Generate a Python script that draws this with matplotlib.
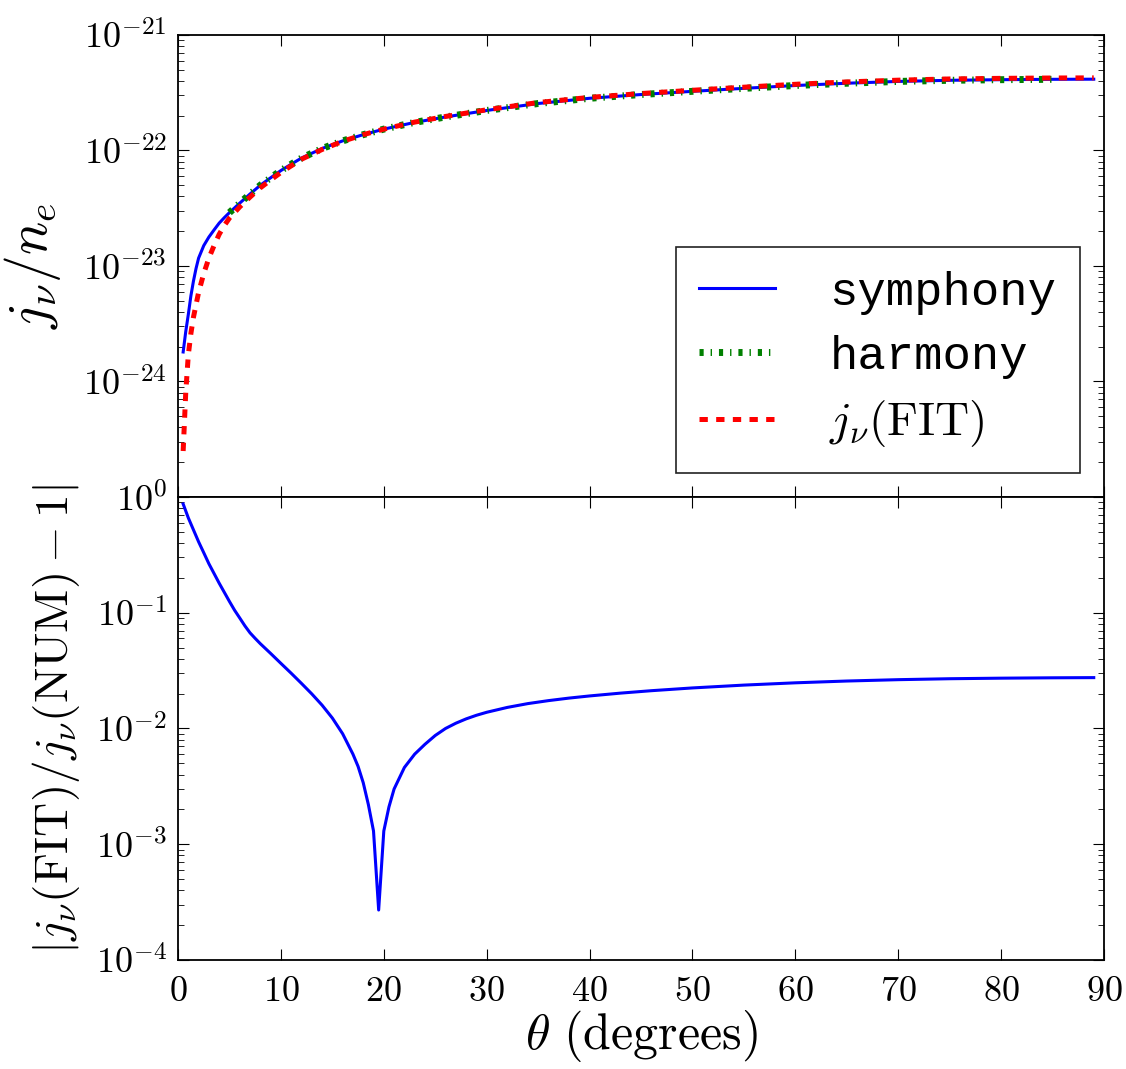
import numpy as np
import matplotlib
matplotlib.use('Agg')
import matplotlib.pyplot as plt
from matplotlib.ticker import FuncFormatter, LogLocator, MultipleLocator, NullFormatter

#Emissivity per electron vs observer angle (degrees)
theta_sym = [0.5, 0.75, 1.0, 1.25, 1.5, 1.75, 2.0, 2.5, 3.0, 3.5, 4.0, 4.5, 5.0, 6.0,
             7.0, 8.0, 9.0, 10.0, 11.0, 12.0, 14.0, 16.0, 18.0, 20.0, 23.0, 26.0,
             30.0, 35.0, 40.0, 45.0, 50.0, 55.0, 60.0, 65.0, 70.0, 75.0, 80.0, 85.0,
             89.0]
j_sym = [1.8e-24, 2.7e-24, 3.8e-24, 5.5e-24, 7.4e-24, 9.5e-24, 1.17e-23, 1.5e-23,
         1.78e-23, 2.05e-23, 2.35e-23, 2.62e-23, 2.9e-23, 3.5e-23, 4.2e-23, 5.0e-23,
         5.8e-23, 6.7e-23, 7.6e-23, 8.6e-23, 1.04e-22, 1.21e-22, 1.37e-22, 1.53e-22,
         1.75e-22, 1.95e-22, 2.22e-22, 2.55e-22, 2.83e-22, 3.05e-22, 3.25e-22,
         3.45e-22, 3.65e-22, 3.82e-22, 3.96e-22, 4.05e-22, 4.10e-22, 4.13e-22,
         4.14e-22]

theta_harm = [5.0, 6.0, 7.0, 8.0, 9.0, 10.0, 11.0, 12.0, 14.0, 16.0, 18.0, 20.0, 23.0,
              26.0, 30.0, 35.0, 40.0, 45.0, 50.0, 55.0, 60.0, 65.0, 70.0, 75.0, 80.0,
              85.0]
j_harm = [2.9e-23, 3.5e-23, 4.2e-23, 5.0e-23, 5.8e-23, 6.7e-23, 7.6e-23, 8.6e-23,
          1.04e-22, 1.21e-22, 1.37e-22, 1.53e-22, 1.75e-22, 1.95e-22, 2.22e-22,
          2.55e-22, 2.83e-22, 3.05e-22, 3.25e-22, 3.45e-22, 3.65e-22, 3.82e-22,
          3.96e-22, 4.05e-22, 4.10e-22, 4.13e-22]

theta_fit = [0.5, 0.75, 1.0, 1.25, 1.5, 2.0, 2.5, 3.0, 3.5, 4.0, 4.5, 5.0, 6.0, 7.0,
             8.0, 9.0, 10.0, 12.0, 14.0, 16.0, 18.0, 20.0, 23.0, 26.0, 30.0, 35.0,
             40.0, 45.0, 50.0, 55.0, 60.0, 65.0, 70.0, 75.0, 80.0, 85.0, 89.0]
j_fit = [2.5e-25, 8.0e-25, 1.7e-24, 2.6e-24, 3.6e-24, 5.9e-24, 8.6e-24, 1.17e-23,
         1.5e-23, 1.88e-23, 2.24e-23, 2.6e-23, 3.25e-23, 3.95e-23, 4.75e-23, 5.55e-23,
         6.45e-23, 8.4e-23, 1.02e-22, 1.2e-22, 1.37e-22, 1.53e-22, 1.76e-22,
         1.97e-22, 2.25e-22, 2.6e-22, 2.88e-22, 3.11e-22, 3.32e-22, 3.53e-22,
         3.74e-22, 3.92e-22, 4.06e-22, 4.16e-22, 4.21e-22, 4.24e-22, 4.25e-22]

#Fractional error of the fit
theta_err = [0.5, 1.0, 1.5, 2.0, 2.5, 3.0, 4.0, 5.0, 5.5, 6.0, 6.5, 7.0, 7.5, 8.0,
             9.0, 10.0, 11.0, 12.0, 13.0, 14.0, 15.0, 16.0, 17.0, 17.5, 18.0, 18.5,
             19.0, 19.5, 20.0, 20.5, 21.0, 22.0, 23.0, 24.0, 25.0, 26.0, 27.0, 28.0,
             29.0, 30.0, 32.0, 34.0, 36.0, 38.0, 40.0, 43.0, 46.0, 50.0, 55.0, 60.0,
             65.0, 70.0, 75.0, 80.0, 85.0, 89.0]
frac_err = [0.87, 0.66, 0.52, 0.41, 0.33, 0.265, 0.18, 0.125, 0.105, 0.090, 0.077,
            0.067, 0.060, 0.054, 0.0445, 0.0365, 0.0300, 0.0245, 0.0199, 0.0159,
            0.0123, 0.0090, 0.0060, 0.0047, 0.0034, 0.0022, 0.0013, 0.00027, 0.0013,
            0.0021, 0.0030, 0.0046, 0.0060, 0.0073, 0.0087, 0.0100, 0.0111, 0.0121,
            0.0130, 0.0138, 0.0152, 0.0164, 0.0174, 0.0183, 0.0191, 0.0202, 0.0212,
            0.0224, 0.0237, 0.0248, 0.0257, 0.0264, 0.0269, 0.0272, 0.0274, 0.0275]

plt.rcParams['mathtext.fontset'] = 'cm'
plt.rcParams['font.family'] = 'serif'
plt.rcParams['lines.scale_dashes'] = False
plt.rcParams['xtick.direction'] = 'in'
plt.rcParams['ytick.direction'] = 'in'
plt.rcParams['xtick.top'] = True
plt.rcParams['ytick.right'] = True
plt.rcParams['xtick.major.size'] = 8
plt.rcParams['ytick.major.size'] = 8
plt.rcParams['xtick.minor.size'] = 4.5
plt.rcParams['ytick.minor.size'] = 4.5
plt.rcParams['xtick.major.pad'] = 10
plt.rcParams['ytick.major.pad'] = 8
plt.rcParams['axes.linewidth'] = 1.3

fig = plt.figure(figsize=(11.26, 10.69), dpi=100)
ax1 = fig.add_axes([0.1581, 0.5351, 0.8224, 0.4322])
ax2 = fig.add_axes([0.1581, 0.1020, 0.8224, 0.4331])

def log_label(v, pos, skip=None):
    p = int(round(np.log10(v)))
    if skip is not None and p == skip:
        return ''
    return r'$10^{%d}$' % p

#Top panel: emissivities
ax1.plot(theta_sym, j_sym, color='#0000ff', lw=2.2, label=r'symphony')
ax1.plot(theta_harm, j_harm, color='#008000', lw=5, ls=(0, (3, 5, 1, 5)),
         label=r'harmony')
ax1.plot(theta_fit, j_fit, color='#ff0000', lw=3.6, ls=(0, (6, 6)),
         label=r'$j_\nu({\rm FIT})$')
ax1.set_yscale('log')
ax1.set_xlim(0, 90)
ax1.set_ylim(1e-25, 1e-21)
ax1.yaxis.set_major_locator(LogLocator(base=10, numticks=10))
ax1.yaxis.set_minor_locator(LogLocator(base=10, subs=np.arange(2, 10), numticks=20))
ax1.yaxis.set_major_formatter(FuncFormatter(lambda v, p: log_label(v, p, skip=-25)))
ax1.yaxis.set_minor_formatter(NullFormatter())
ax1.xaxis.set_major_locator(MultipleLocator(10))
ax1.set_xticklabels([])
ax1.tick_params(labelsize=26)
ax1.set_ylabel(r'$j_\nu/n_e$', fontsize=40)
ax1.yaxis.set_label_coords(-0.124, 0.5)

leg = ax1.legend(loc='lower right', bbox_to_anchor=(0.974, 0.052), borderaxespad=0,
                 fancybox=False, framealpha=1, edgecolor='#222222',
                 prop={'family': 'Liberation Mono', 'size': 34},
                 handlelength=1.6, handletextpad=1.15, labelspacing=0.42,
                 borderpad=0.5)
leg.get_frame().set_linewidth(1.2)

#Bottom panel: relative error
ax2.plot(theta_err, frac_err, color='#0000ff', lw=2.2)
ax2.set_yscale('log')
ax2.set_xlim(0, 90)
ax2.set_ylim(1e-4, 1e0)
ax2.yaxis.set_major_locator(LogLocator(base=10, numticks=10))
ax2.yaxis.set_minor_locator(LogLocator(base=10, subs=np.arange(2, 10), numticks=20))
ax2.yaxis.set_major_formatter(FuncFormatter(log_label))
ax2.yaxis.set_minor_formatter(NullFormatter())
ax2.xaxis.set_major_locator(MultipleLocator(10))
ax2.xaxis.set_major_formatter(FuncFormatter(lambda v, p: r'$%d$' % v))
ax2.tick_params(labelsize=26)
ax2.set_ylabel(r'$|j_\nu({\rm FIT})/j_\nu({\rm NUM}) - 1|$', fontsize=34)
ax2.yaxis.set_label_coords(-0.104, 0.52)
ax2.set_xlabel(r'$\theta\ ({\rm degrees})$', fontsize=36, labelpad=0)

fig.savefig('out.png', dpi=100)
